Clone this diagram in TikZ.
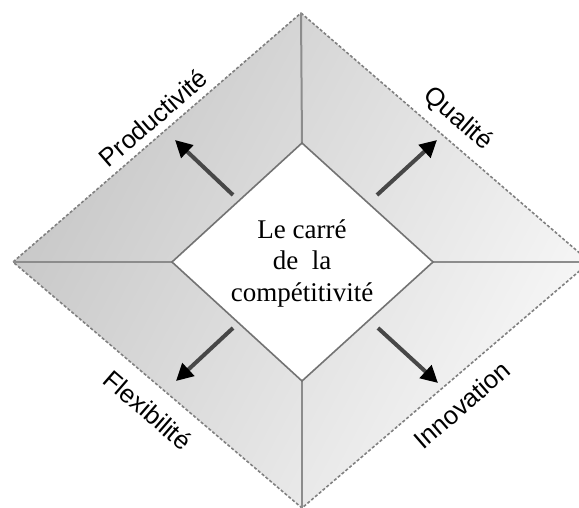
\documentclass[tikz,border=0pt]{standalone}
\usepackage{fontspec}
\setmainfont{Liberation Serif}
\newfontfamily\labelfont{Liberation Sans}
\usetikzlibrary{arrows.meta}
\begin{document}
\begin{tikzpicture}[x=1pt,y=-1pt,
  outeredge/.style={draw=black!50, dash pattern=on 3pt off 2pt, line width=1.6pt},
  spoke/.style={draw=black!45, line width=2pt},
  innerbox/.style={draw=black!55, line width=1.6pt, fill=white},
  arr/.style={draw=black!72, line width=4pt, -{Triangle[length=17pt,width=17pt,color=black]}},
  lbl/.style={font=\labelfont\fontsize{25.5}{30}\selectfont, inner sep=0pt},
  centre/.style={font=\fontsize{27}{31.5}\selectfont, align=center, inner sep=0pt},
]
\useasboundingbox (0,0) rectangle (579,508);
\clip (0,0) rectangle (579,508);
% outer vertices
\coordinate (OT) at (301,13);
\coordinate (OR) at (590,262);
\coordinate (OB) at (302,508);
\coordinate (OL) at (13,262);
% inner vertices
\coordinate (IT) at (302,143);
\coordinate (IR) at (433,262);
\coordinate (IB) at (302,381);
\coordinate (IL) at (172,262);
% shaded outer rhombus
\shade[top color=black!22, bottom color=black!3, shading angle=62]
  (OT) -- (OR) -- (OB) -- (OL) -- cycle;
\draw[outeredge] (OT) -- (OR) -- (OB) -- (OL) -- cycle;
% spokes
\draw[spoke] (IT) -- (OT);
\draw[spoke] (IR) -- (OR);
\draw[spoke] (IB) -- (OB);
\draw[spoke] (IL) -- (OL);
% inner rhombus
\draw[innerbox] (IT) -- (IR) -- (IB) -- (IL) -- cycle;
\node[centre] (centre) at (302,263) {Le carré\\de\ \ la\\compétitivité};
% arrows
\coordinate (a1s) at (233,195); \coordinate (a1e) at (175,140);
\coordinate (a2s) at (377,195); \coordinate (a2e) at (437,140);
\coordinate (a3s) at (233,328); \coordinate (a3e) at (176,381);
\coordinate (a4s) at (378,328); \coordinate (a4e) at (438,383);
\draw[arr] (a1s) -- (a1e);
\draw[arr] (a2s) -- (a2e);
\draw[arr] (a3s) -- (a3e);
\draw[arr] (a4s) -- (a4e);
% labels
\node[lbl, rotate=41]  (prod) at (153,118) {Productivité};
\node[lbl, rotate=-41] (qual) at (458,119) {Qualité};
\node[lbl, rotate=-41] (flex) at (148,410) {Flexibilité};
\node[lbl, rotate=41]  (inno) at (462,405) {Innovation};
\end{tikzpicture}
\end{document}
